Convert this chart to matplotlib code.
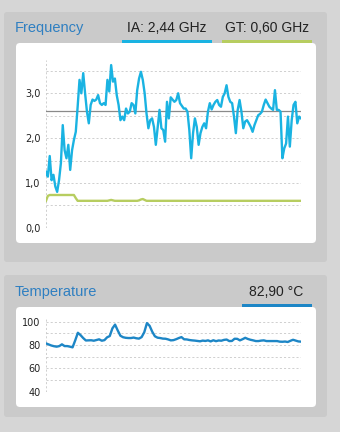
import matplotlib.pyplot as plt
from matplotlib.patches import FancyBboxPatch, Rectangle

plt.rcParams['font.family'] = ['Liberation Sans', 'DejaVu Sans']

# clock samples (GHz), oldest first
ia_freq = [
    1.25, 1.14, 1.60, 1.06, 1.18, 0.92, 0.80, 1.06, 1.44, 2.29,
    1.73, 1.55, 1.85, 1.29, 1.73, 1.96, 2.14, 2.70, 3.30, 3.00,
    3.45, 3.00, 2.59, 2.33, 2.74, 2.86, 2.83, 2.86, 2.96, 2.78,
    2.74, 2.78, 2.74, 3.30, 3.04, 3.63, 3.26, 3.33, 2.96, 2.74,
    2.40, 2.48, 2.40, 2.66, 2.55, 2.59, 2.78, 2.74, 2.55, 3.07,
    3.33, 3.48, 3.30, 3.00, 2.55, 2.22, 2.40, 2.44, 2.25, 1.85,
    2.25, 2.63, 2.22, 2.18, 1.92, 2.81, 2.44, 2.91, 2.86, 2.81,
    2.85, 3.00, 2.78, 2.72, 2.66, 2.66, 2.59, 2.18, 1.55, 2.11,
    2.44, 2.25, 1.85, 2.11, 2.25, 2.33, 2.22, 2.59, 2.78, 2.64,
    2.74, 2.81, 2.85, 2.74, 2.70, 2.92, 3.00, 3.18, 2.92, 2.81,
    2.78, 2.48, 2.11, 2.63, 2.85, 2.59, 2.22, 2.37, 2.40, 2.33,
    2.25, 2.14, 2.29, 2.40, 2.51, 2.54, 2.59, 2.74, 2.86, 2.78,
    2.70, 2.66, 2.63, 3.07, 2.63, 2.63, 2.59, 1.55, 1.77, 1.88,
    2.48, 1.81, 2.40, 2.74, 2.81, 2.33, 2.48, 2.44,
]
gt_freq = [
    0.60, 0.71, 0.73, 0.73, 0.73, 0.73, 0.73, 0.73, 0.73, 0.73,
    0.73, 0.73, 0.73, 0.73, 0.73, 0.73, 0.66, 0.60, 0.60, 0.60,
    0.60, 0.60, 0.60, 0.60, 0.60, 0.60, 0.60, 0.60, 0.60, 0.60,
    0.60, 0.60, 0.60, 0.60, 0.61, 0.62, 0.61, 0.60, 0.60, 0.60,
    0.60, 0.60, 0.60, 0.60, 0.60, 0.60, 0.60, 0.60, 0.60, 0.60,
    0.61, 0.63, 0.64, 0.62, 0.60, 0.60, 0.60, 0.60, 0.60, 0.60,
    0.60, 0.60, 0.60, 0.60, 0.60, 0.60, 0.60, 0.60, 0.60, 0.60,
    0.60, 0.60, 0.60, 0.60, 0.60, 0.60, 0.60, 0.60, 0.60, 0.60,
    0.60, 0.60, 0.60, 0.60, 0.60, 0.60, 0.60, 0.60, 0.60, 0.60,
    0.60, 0.60, 0.60, 0.60, 0.60, 0.60, 0.60, 0.60, 0.60, 0.60,
    0.60, 0.60, 0.60, 0.60, 0.60, 0.60, 0.60, 0.60, 0.60, 0.60,
    0.60, 0.60, 0.60, 0.60, 0.60, 0.60, 0.60, 0.60, 0.60, 0.60,
    0.60, 0.60, 0.60, 0.60, 0.60, 0.60, 0.60, 0.60, 0.60, 0.60,
    0.60, 0.60, 0.60, 0.60, 0.60, 0.60, 0.60, 0.60,
]
ia_avg = 2.6
freq_ticks = [0, 1, 2, 3]
freq_tick_labels = ['0,0', '1,0', '2,0', '3,0']

# package temperature (°C)
temp = [
    81.4, 80.5, 79.6, 79.0, 78.6, 79.1, 80.6, 79.1, 79.1, 78.6,
    78.0, 84.0, 90.5, 88.5, 86.0, 83.9, 84.0, 84.1, 83.7, 84.3,
    84.9, 83.7, 84.2, 86.6, 87.7, 94.3, 97.5, 92.5, 88.0, 86.7,
    86.2, 86.0, 86.0, 86.4, 85.8, 85.5, 86.8, 91.0, 98.8, 96.5,
    91.4, 87.5, 86.3, 86.0, 85.5, 85.4, 84.8, 84.0, 84.2, 85.0,
    86.0, 86.8, 84.9, 84.8, 84.3, 84.0, 83.8, 83.5, 83.2, 83.8,
    83.5, 84.0, 83.1, 84.1, 83.3, 83.9, 83.7, 84.4, 84.7, 83.4,
    83.5, 85.4, 85.3, 84.0, 85.0, 86.2, 85.2, 84.5, 84.0, 83.4,
    83.4, 83.8, 84.0, 83.4, 83.4, 83.4, 83.4, 83.4, 82.9, 82.8,
    83.0, 82.6, 83.6, 84.5, 83.8, 83.1, 82.9,
]
temp_ticks = [40, 60, 80, 100]

W, H = 340, 432
fig = plt.figure(figsize=(W / 100, H / 100), dpi=100)
fig.patch.set_facecolor('#d6d6d6')

# background layer in pixel units
bg = fig.add_axes([0, 0, 1, 1])
bg.set_xlim(0, W)
bg.set_ylim(H, 0)
bg.axis('off')

def panel(x0, y0, x1, y1, color, r):
    bg.add_patch(FancyBboxPatch((x0 + r, y0 + r), x1 - x0 - 2 * r, y1 - y0 - 2 * r,
                                boxstyle=f'round,pad={r}', fc=color, ec='none'))

panel(4, 12, 327, 262, '#cacaca', 3)
panel(16, 43, 316, 243, 'white', 4)
panel(4, 275, 327, 417, '#cacaca', 3)
panel(16, 307, 316, 407, 'white', 4)

blue_title = '#2f7fc1'
bg.text(15, 28, 'Frequency', color=blue_title, fontsize=10.5, va='center')
bg.text(167, 28, 'IA: 2,44 GHz', color='#222222', fontsize=10, va='center', ha='center')
bg.text(267, 28, 'GT: 0,60 GHz', color='#222222', fontsize=10, va='center', ha='center')
bg.add_patch(Rectangle((122, 40), 90, 3, fc='#1ab3e2', ec='none'))
bg.add_patch(Rectangle((222, 40), 90, 3, fc='#b7cd60', ec='none'))

bg.text(15, 292, 'Temperature', color=blue_title, fontsize=10.5, va='center')
bg.text(276, 292, '82,90 °C', color='#222222', fontsize=10, va='center', ha='center')
bg.add_patch(Rectangle((242, 304), 70, 3, fc='#1d86c6', ec='none'))


def style_axes(ax, gridvals, yticks, ylabels):
    for s in ax.spines.values():
        s.set_visible(False)
    ax.set_facecolor('none')
    for g in gridvals:
        ax.axhline(g, color='#c8c8c8', lw=0.6, ls=(0, (2.5, 2.5)), zorder=0)
    ax.axvline(0, color='#c8c8c8', lw=0.6, ls=(0, (2.5, 2.5)), zorder=0)
    ax.set_xticks([])
    ax.set_yticks(yticks)
    ax.set_yticklabels(ylabels, fontsize=7, color='#222222', family='DejaVu Sans')
    ax.tick_params(axis='y', length=0, pad=4)


# frequency chart
ax1 = fig.add_axes([46 / W, 1 - 227.7 / H, 255 / W, 168 / H])
ax1.set_xlim(0, len(ia_freq) - 1)
ax1.set_ylim(0, 3.75)
style_axes(ax1, [0, 0.5, 1, 1.5, 2, 2.5, 3, 3.5], freq_ticks, freq_tick_labels)
ax1.axhline(ia_avg, color='#8a8a8a', lw=0.9, zorder=1)
ax1.plot(range(len(gt_freq)), gt_freq, color='#b7cd60', lw=1.7, zorder=2,
         solid_joinstyle='round')
ax1.plot(range(len(ia_freq)), ia_freq, color='#1ab3e2', lw=1.7, zorder=3)

# temperature chart
ax2 = fig.add_axes([46 / W, 1 - 391.7 / H, 255 / W, 74 / H])
ax2.set_xlim(0, len(temp) - 1)
ax2.set_ylim(40, 100 + 4 * 60 / 70)
style_axes(ax2, [40, 50, 60, 70, 80, 90, 100], temp_ticks, [str(t) for t in temp_ticks])
ax2.plot(range(len(temp)), temp, color='#1d86c6', lw=1.7, zorder=3)

fig.savefig('out.png', dpi=100, facecolor=fig.get_facecolor())
